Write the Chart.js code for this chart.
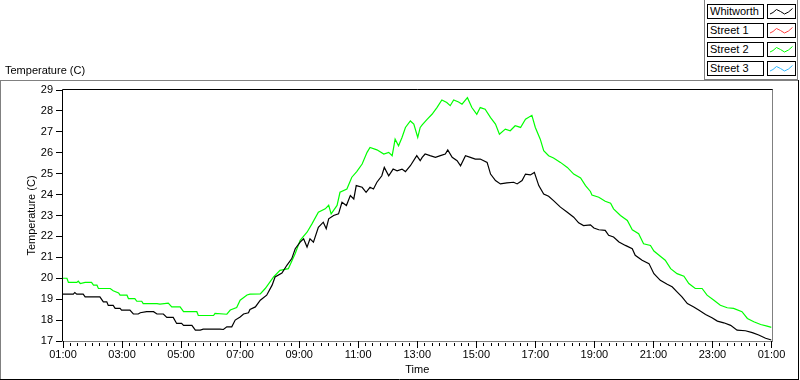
<!DOCTYPE html>
<html>
<head>
<meta charset="utf-8">
<script src="https://cdn.jsdelivr.net/npm/chart.js@4/dist/chart.umd.min.js"></script>
<style>
html,body{margin:0;padding:0;background:#fff;}
#wrap{position:relative;width:800px;height:380px;overflow:hidden;font-family:"Liberation Sans",Arial,sans-serif;font-size:11px;color:#000;}
#c{position:absolute;left:0;top:0;}
#ttl{position:absolute;left:5px;top:64px;line-height:13px;white-space:nowrap;}
#lgframe{position:absolute;left:704px;top:0;width:94px;height:80px;border-left:1px solid #808080;border-right:1px solid #808080;border-bottom:1px solid #808080;box-sizing:border-box;}
.lg-name{position:absolute;left:707px;width:57px;height:15px;border:1px solid #000;box-sizing:border-box;padding-left:2px;line-height:13px;white-space:nowrap;background:#fff;}
.lg-icon{position:absolute;left:767px;width:29px;height:15px;border:1px solid #000;box-sizing:border-box;background:#fff;}
.lg-icon svg{position:absolute;left:0;top:0;}
</style>
</head>
<body>
<div id="wrap">
  <canvas id="c" width="800" height="380"></canvas>
  <div id="ttl">Temperature (C)</div>
  <div id="lgframe"></div>
  <div id="legend"></div>
</div>
<script>
// ---- data (time in minutes after 01:00, temperature in °C) ----
const whitworthMinutes = [
  0,21,24,28,41,45,75,82,89,92,
  102,106,116,119,136,143,153,157,170,184,
  191,204,211,224,231,241,245,262,269,279,
  285,319,326,333,343,350,360,367,377,380,
  391,401,414,425,431,445,455,465,472,482,
  489,496,502,509,519,529,535,540,550,560,
  567,576,584,591,596,608,616,624,631,638,
  648,653,662,671,679,689,696,706,719,726,
  730,736,746,757,767,777,782,791,801,808,
  818,828,838,848,862,869,879,889,902,916,
  923,933,940,950,958,967,977,987,997,1011,
  1025,1038,1048,1058,1072,1079,1089,1102,1109,1119,
  1130,1143,1157,1163,1177,1191,1201,1214,1228,1238,
  1248,1258,1269,1282,1292,1306,1319,1330,1343,1357,
  1370,1387,1401,1414,1428,1440
];
const whitworthTemps = [
  19.24,19.24,19.32,19.24,19.24,19.11,19.11,18.87,18.87,18.70,
  18.70,18.56,18.56,18.48,18.48,18.29,18.29,18.35,18.40,18.40,
  18.29,18.29,18.13,18.13,17.84,17.84,17.75,17.75,17.52,17.52,
  17.57,17.57,17.55,17.68,17.68,18.00,18.15,18.29,18.35,18.51,
  18.63,18.95,19.19,19.67,20.06,20.25,20.62,20.94,21.41,21.73,
  21.89,21.49,21.89,21.73,22.44,22.68,22.37,22.84,23.00,23.08,
  23.63,23.48,23.95,23.79,24.43,24.35,24.11,24.35,24.27,24.59,
  24.90,25.30,24.90,25.22,25.14,25.22,25.10,25.38,25.86,25.62,
  25.78,25.94,25.86,25.78,25.86,25.94,26.14,25.78,25.62,25.38,
  25.86,25.78,25.70,25.70,25.54,24.98,24.67,24.51,24.56,24.59,
  24.51,24.67,24.98,24.94,25.06,24.43,24.03,23.92,23.71,23.40,
  23.16,22.92,22.65,22.52,22.55,22.40,22.32,22.29,22.05,21.97,
  21.73,21.57,21.41,21.10,20.86,20.70,20.22,19.90,19.71,19.59,
  19.35,19.11,18.79,18.63,18.48,18.27,18.11,17.95,17.87,17.75,
  17.52,17.49,17.40,17.29,17.13,17.05
];
const street1Minutes = [];
const street1Temps = [];
const street2Minutes = [
  0,8,11,28,31,35,45,58,62,69,
  72,96,102,113,116,130,133,146,150,160,
  163,191,197,214,221,238,245,272,275,306,
  309,333,340,353,360,374,380,401,411,428,
  441,458,472,482,496,506,519,533,540,545,
  557,563,577,587,597,608,618,624,638,652,
  662,669,672,675,682,689,696,706,713,721,
  726,730,740,750,760,770,780,787,794,804,
  811,822,831,841,848,858,869,879,887,899,
  909,919,930,940,953,960,970,977,987,997,
  1011,1025,1038,1052,1062,1072,1075,1089,1102,1113,
  1119,1133,1147,1157,1170,1180,1194,1201,1214,1224,
  1235,1248,1262,1272,1285,1299,1309,1323,1336,1350,
  1363,1380,1391,1404,1418,1431,1440
];
const street2Temps = [
  20.00,20.00,19.80,19.80,19.86,19.75,19.80,19.80,19.67,19.67,
  19.51,19.51,19.40,19.30,19.19,19.19,19.03,19.03,18.90,18.90,
  18.79,18.79,18.76,18.81,18.63,18.63,18.40,18.40,18.22,18.22,
  18.32,18.28,18.48,18.60,18.95,19.20,19.24,19.25,19.51,20.06,
  20.38,20.46,21.18,21.81,22.20,22.60,23.16,23.32,23.49,23.08,
  23.48,24.11,24.27,24.83,25.10,25.46,26.02,26.25,26.14,25.94,
  26.02,25.86,26.25,26.65,26.33,26.73,27.21,27.52,27.37,26.73,
  27.21,27.33,27.60,27.84,28.16,28.52,28.40,28.25,28.52,28.43,
  28.32,28.63,28.16,27.84,28.16,28.08,27.68,27.37,26.89,27.13,
  27.05,27.29,27.21,27.60,27.79,27.21,26.65,26.10,25.86,25.75,
  25.54,25.30,24.98,24.80,24.43,24.15,23.98,23.87,23.68,23.59,
  23.32,23.00,22.76,22.32,22.13,21.65,21.57,21.30,21.05,20.86,
  20.46,20.22,20.10,19.75,19.51,19.51,19.19,18.95,18.71,18.59,
  18.56,18.40,18.08,17.92,17.79,17.71,17.65
];
const street3Minutes = [];
const street3Temps = [];

const seriesNames = ['Whitworth', 'Street 1', 'Street 2', 'Street 3'];
const seriesColors = ['#000000', '#ff4040', '#00ff00', '#30b8ff'];
const xLabelStepMinutes = 120;   // labelled ticks every 2 h
const xMinorStepMinutes = 15;    // small ticks every 15 min
const yMin = 17, yMax = 29;
const startHour = 1;             // axis starts at 01:00

// ---- helpers ----
function timeLabel(m) {
  const h = (startHour + Math.floor(m / 60)) % 24;
  const mm = Math.round(m % 60);
  return String(h).padStart(2, '0') + ':' + String(mm).padStart(2, '0');
}
const toPoints = (ms, ts) => ms.map((m, i) => ({ x: m, y: ts[i] }));

const seriesData = [
  toPoints(whitworthMinutes, whitworthTemps),
  toPoints(street1Minutes, street1Temps),
  toPoints(street2Minutes, street2Temps),
  toPoints(street3Minutes, street3Temps)
];

// ---- legend (HTML) ----
const legend = document.getElementById('legend');
seriesNames.forEach((name, i) => {
  const top = 4 + i * 19;
  const n = document.createElement('div');
  n.className = 'lg-name'; n.style.top = top + 'px'; n.textContent = name;
  const ic = document.createElement('div');
  ic.className = 'lg-icon'; ic.style.top = top + 'px';
  ic.innerHTML = '<svg width="27" height="13" viewBox="0 0 27 13"><polyline points="2,9 5,7.5 8.5,4.5 12.5,6.5 16.5,9 20.5,7 24.5,3.5" fill="none" stroke="' + seriesColors[i] + '" stroke-width="1"/></svg>';
  legend.appendChild(n); legend.appendChild(ic);
});

// ---- frame / tick plugin ----
const framePlugin = {
  id: 'labviewFrame',
  afterDraw(chart) {
    const { ctx, chartArea: a, scales: { x, y } } = chart;
    ctx.save();
    ctx.lineWidth = 1;
    const line = (x1, y1, x2, y2, c) => {
      ctx.strokeStyle = c; ctx.beginPath(); ctx.moveTo(x1, y1); ctx.lineTo(x2, y2); ctx.stroke();
    };
    // outer frame
    line(0, 80.5, 798, 80.5, '#808080');
    line(0.5, 80, 0.5, 380, '#808080');
    line(0, 379.5, 799, 379.5, '#000');
    line(798.5, 80, 798.5, 380, '#000');
    // plot box
    const L = Math.floor(a.left) - 0.5, R = Math.ceil(a.right) + 0.5;
    const T = Math.floor(a.top) - 0.5, B = Math.floor(a.bottom) + 0.5;
    line(L, T, R + 0.5, T, '#000');
    line(L, T, L, B, '#000');
    line(R, T, R, B + 0.5, '#808080');
    line(L + 0.5, B, R, B, '#808080');
    // y ticks
    for (let v = yMin; v <= yMax; v++) {
      const py = Math.floor(y.getPixelForValue(v)) + 0.5;
      line(56, py, 62, py, '#000');
    }
    // x ticks
    for (let m = x.min; m <= x.max; m += xMinorStepMinutes) {
      const px = Math.floor(x.getPixelForValue(m)) + 0.5;
      if (m % xLabelStepMinutes === 0) line(px, B - 0.5, px, B + 6.5, '#000');
      else line(px, B + 1.5, px, B + 4.5, '#000');
    }
    ctx.restore();
  }
};

Chart.defaults.font.family = '"Liberation Sans", Arial, sans-serif';
Chart.defaults.font.size = 11;
Chart.defaults.color = '#000';

new Chart(document.getElementById('c'), {
  type: 'line',
  data: {
    datasets: seriesNames.map((name, i) => ({
      label: name,
      data: seriesData[i],
      borderColor: seriesColors[i],
      backgroundColor: seriesColors[i],
      borderWidth: 1.2,
      pointRadius: 0,
      tension: 0,
      fill: false
    }))
  },
  options: {
    responsive: false,
    animation: false,
    events: [],
    layout: { padding: { left: 0, top: 90, right: 28.5, bottom: 0 } },
    plugins: { legend: { display: false }, tooltip: { enabled: false } },
    scales: {
      x: {
        type: 'linear', min: 0, max: 1440,
        afterFit(s) { s.height = 39; s.paddingLeft = 0; s.paddingRight = 0; },
        ticks: { stepSize: xLabelStepMinutes, autoSkip: false, maxRotation: 0, minRotation: 0, padding: 7,
                 callback: (v) => timeLabel(v) },
        grid: { display: false, drawTicks: false },
        border: { display: false },
        title: { display: true, text: 'Time', padding: { top: 0, bottom: 3 } }
      },
      y: {
        min: yMin, max: yMax,
        afterFit(s) { s.width = 63; s.paddingTop = 0; s.paddingBottom = 0; },
        ticks: { stepSize: 1, padding: 10 },
        grid: { display: false, drawTicks: false },
        border: { display: false },
        title: { display: true, text: 'Temperature (C)', padding: { top: 25, bottom: 0 } }
      }
    }
  },
  plugins: [framePlugin]
});
</script>
</body>
</html>
